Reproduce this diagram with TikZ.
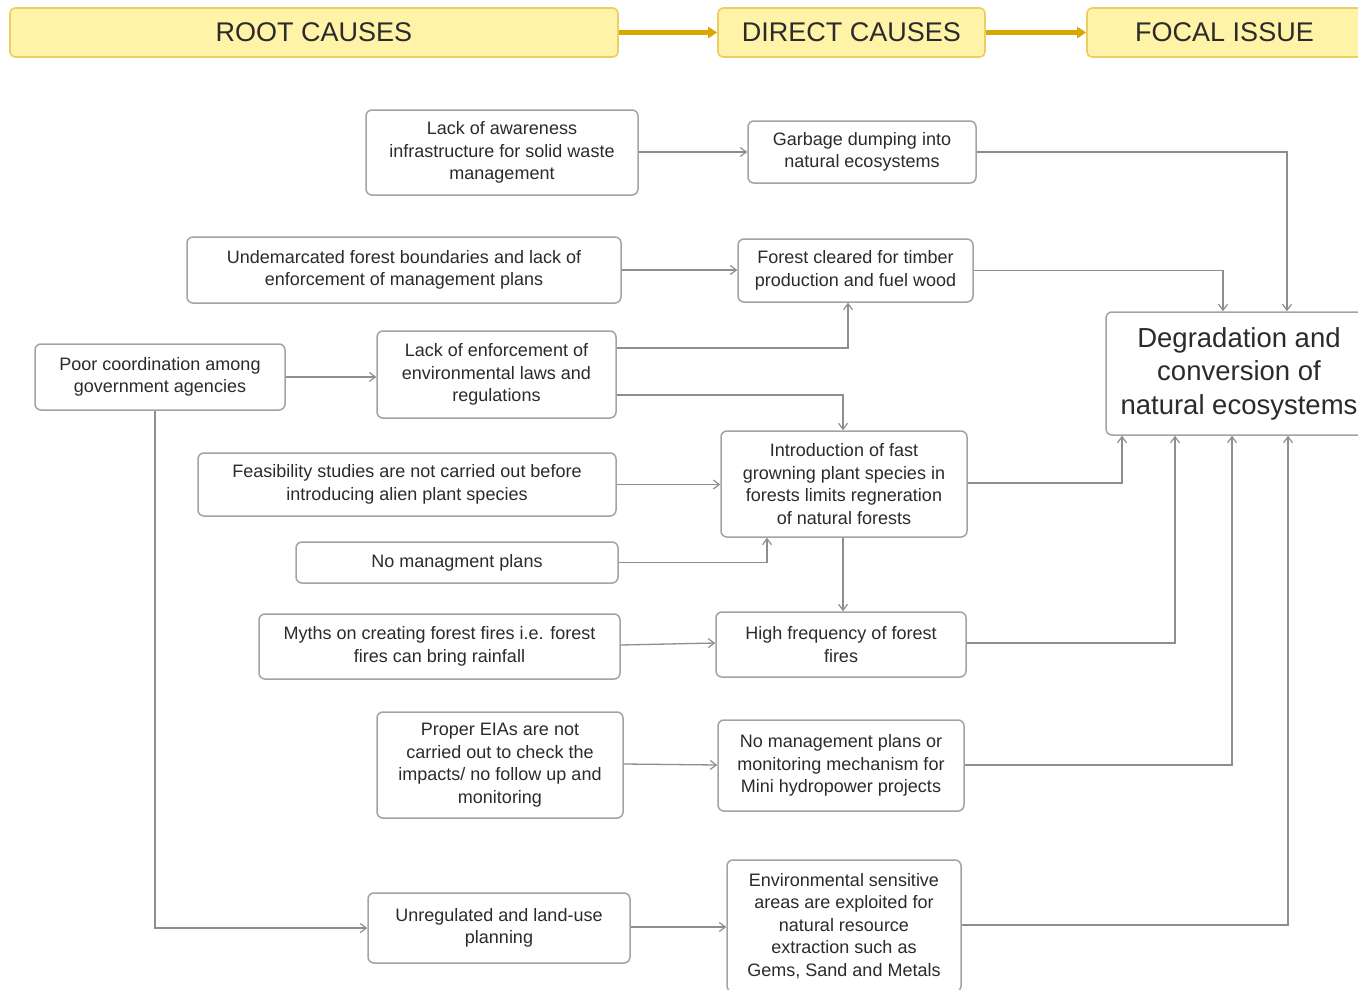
\documentclass[tikz,border=0pt]{standalone}
\usepackage{fontspec}
\setmainfont{Liberation Sans}
\usetikzlibrary{arrows.meta}
\definecolor{hdrfill}{HTML}{FFF3A8}
\definecolor{hdrline}{HTML}{EBCF63}
\definecolor{hdrarrow}{HTML}{D9A800}
\definecolor{boxline}{HTML}{A3A3A3}
\definecolor{connline}{HTML}{8E8E8E}
\definecolor{txt}{HTML}{2B2B2B}
\tikzset{
  hdr/.style={draw=hdrline, line width=1.6pt, fill=hdrfill, rounded corners=5pt, inner sep=0pt,
    text=txt, font=\fontsize{27}{30}\selectfont},
  hdrarr/.style={draw=hdrarrow, line width=4.5pt, -{Triangle[length=9pt,width=11pt]}},
  box/.style={draw=boxline, line width=1.5pt, fill=white, rounded corners=6pt, inner sep=0pt,
    align=center, text=txt, font=\fontsize{18}{22.5}\selectfont},
  focal/.style={box, font=\fontsize{27.5}{33.5}\selectfont},
  conn/.style={draw=connline, line width=1.3pt, -{Straight Barb[length=6pt,width=9pt,line width=1.2pt]}},
}
\begin{document}
\begin{tikzpicture}[x=1pt,y=-1pt]
\useasboundingbox (0,0) rectangle (1358,990);
\clip (0,0) rectangle (1358,990);
% headers
\node[hdr, minimum width=608pt, minimum height=49pt] (root) at (314,32.5) {ROOT CAUSES};
\node[hdr, minimum width=267pt, minimum height=49pt] (direct) at (851.5,32.5) {DIRECT CAUSES};
\node[hdr, minimum width=275pt, minimum height=49pt] (focalh) at (1224.5,32.5) {FOCAL ISSUE};
\draw[hdrarr] (root.east) -- (direct.west);
\draw[hdrarr] (direct.east) -- (focalh.west);
% boxes
\node[box, minimum width=272pt, minimum height=85pt] (A) at (502,152.5) {Lack of awareness\\infrastructure for solid waste\\management};
\node[box, minimum width=228pt, minimum height=62pt] (B) at (862,152) {Garbage dumping into\\natural ecosystems};
\node[box, minimum width=434pt, minimum height=66pt] (C) at (404,270) {Undemarcated forest boundaries and lack of\\enforcement of management plans};
\node[box, minimum width=235pt, minimum height=63pt] (D) at (855.5,270.5) {Forest cleared for timber\\production and fuel wood};
\node[box, minimum width=250pt, minimum height=66pt] (E) at (160,377) {Poor coordination among\\government agencies};
\node[box, minimum width=239pt, minimum height=87pt] (F) at (496.5,374.5) {Lack of enforcement of\\environmental laws and\\regulations};
\node[focal, minimum width=266pt, minimum height=123pt] (G) at (1239,373.5) {Degradation and\\conversion of\\natural ecosystems};
\node[box, minimum width=418pt, minimum height=63pt] (H) at (407,484.5) {Feasibility studies are not carried out before\\introducing alien plant species};
\node[box, minimum width=246pt, minimum height=106pt] (I) at (844,484) {Introduction of fast\\growning plant species in\\forests limits regneration\\of natural forests};
\node[box, minimum width=322pt, minimum height=41pt] (J) at (457,562.5) {No managment plans};
\node[box, minimum width=361pt, minimum height=65pt] (K) at (439.5,646.5) {Myths on creating forest fires i.e. forest\\fires can bring rainfall};
\node[box, minimum width=250pt, minimum height=65pt] (L) at (841,644.5) {High frequency of forest\\fires};
\node[box, minimum width=246pt, minimum height=106pt] (M) at (500,765) {Proper EIAs are not\\carried out to check the\\impacts/ no follow up and\\monitoring};
\node[box, minimum width=246pt, minimum height=91pt] (N) at (841,765.5) {No management plans or\\monitoring mechanism for\\Mini hydropower projects};
\node[box, minimum width=262pt, minimum height=70pt] (O) at (499,928) {Unregulated and land-use\\planning};
\node[box, minimum width=234pt, minimum height=132pt] (P) at (844,926) {Environmental sensitive\\areas are exploited for\\natural resource\\extraction such as\\Gems, Sand and Metals};
% connectors
\draw[conn] (A.east |- 0,152) -- (B.west |- 0,152);
\draw[conn] (B.east) -| (G.north -| 1287,0);
\draw[conn] (C.east) -- (D.west |- C.east);
\draw[conn] (D.east) -| (G.north -| 1223,0);
\draw[conn] (E.east) -- (F.west |- E.east);
\draw[conn] (F.east |- 0,348) -| (D.south -| 848,0);
\draw[conn] (F.east |- 0,395) -| (I.north -| 843,0);
\draw[conn] (H.east) -- (I.west |- H.east);
\draw[conn] (J.east) -| (I.south -| 767,0);
\draw[conn] (I.south -| 843,0) -- (L.north -| 843,0);
\draw[conn] (I.east |- 0,483) -| (G.south -| 1122,0);
\draw[conn] (K.east |- 0,645) -- (L.west |- 0,643);
\draw[conn] (L.east |- 0,643) -| (G.south -| 1175,0);
\draw[conn] (M.east |- 0,764) -- (N.west |- 0,765);
\draw[conn] (N.east |- 0,765) -| (G.south -| 1232,0);
\draw[conn] (E.south -| 155,0) |- (O.west);
\draw[conn] (O.east |- 0,927) -- (P.west |- 0,927);
\draw[conn] (P.east |- 0,925) -| (G.south -| 1288,0);
\end{tikzpicture}
\end{document}
